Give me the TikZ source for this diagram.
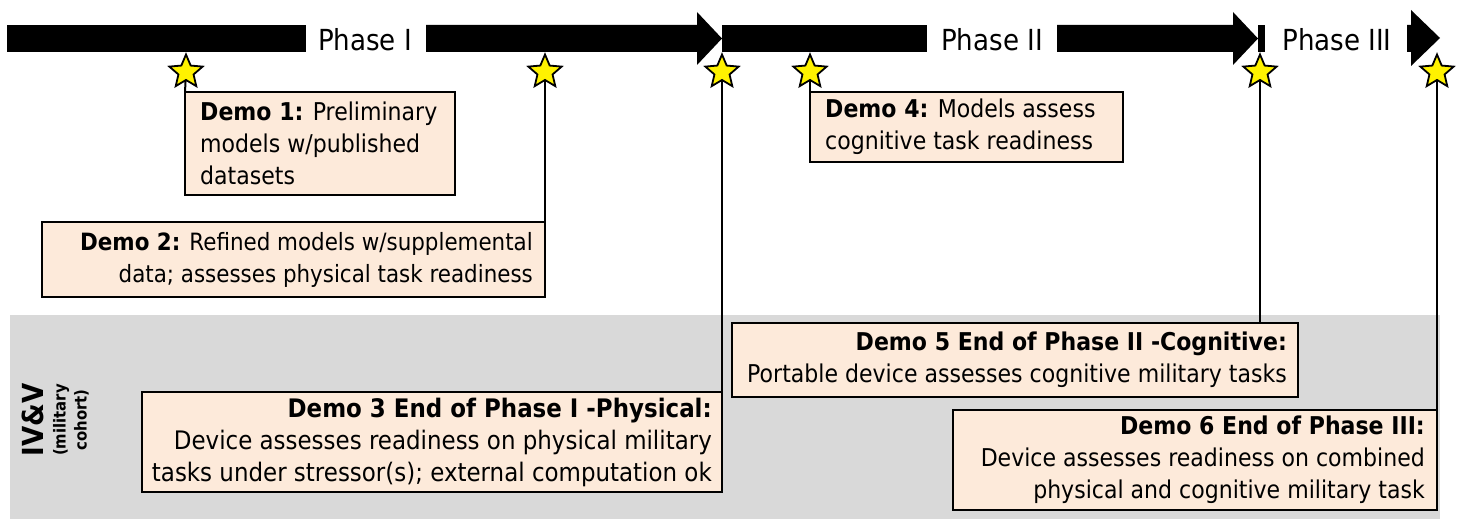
\documentclass[tikz,border=0pt]{standalone}
\usepackage{fontspec}
\setmainfont{DejaVu Sans}[FakeStretch=0.9]
\usetikzlibrary{shapes.geometric}
\definecolor{peach}{HTML}{FDEADA}
\definecolor{bandgray}{HTML}{D9D9D9}
\pgfdeclarelayer{bg}
\pgfdeclarelayer{ln}
\pgfsetlayers{bg,ln,main}
\begin{document}
\begin{tikzpicture}[x=1pt,y=-1pt,
  demobox/.style={draw=black, line width=2.4pt, fill=peach, anchor=north west, inner sep=0pt, outer sep=0pt},
  boxtext/.style={inner sep=0pt, font=\fontsize{24.5}{32}\selectfont},
  staricon/.style={star, star points=5, star point ratio=2.2, minimum size=35pt, inner sep=0pt, fill=yellow, draw=black, line width=1.8pt},
  phaselbl/.style={font=\fontsize{29}{34}\selectfont, anchor=center, inner sep=0pt},
  conn/.style={line width=2pt},
  bar/.style={fill=black}]
\useasboundingbox (0,0) rectangle (1459,519);
% gray IV&V band
\begin{pgfonlayer}{bg}
\fill[bandgray] (10,315) rectangle (1440,519);
\end{pgfonlayer}
% timeline bars
\fill[bar] (7,25) rectangle (306,52);
\fill[bar] (426,25) -- (697,25) -- (697,12) -- (722,38.5) -- (697,65) -- (697,52) -- (426,52) -- cycle;
\fill[bar] (722,25) rectangle (927,52);
\fill[bar] (1057,25) -- (1233,25) -- (1233,12) -- (1258,38.5) -- (1233,65) -- (1233,52) -- (1057,52) -- cycle;
\fill[bar] (1258,25) rectangle (1265,52);
\fill[bar] (1407,25) -- (1411,25) -- (1411,10) -- (1440,38) -- (1411,66) -- (1411,52) -- (1407,52) -- cycle;
\node[phaselbl] (p1) at (365,40) {Phase I};
\node[phaselbl] (p2) at (992,40) {Phase II};
\node[phaselbl] (p3) at (1337,40) {Phase III};
% stars
\node[staricon] (s1) at (186,72) {};
\node[staricon] (s2) at (545,72) {};
\node[staricon] (s3) at (722,72) {};
\node[staricon] (s4) at (810,72) {};
\node[staricon] (s5) at (1260,72) {};
\node[staricon] (s6) at (1437,72) {};
% boxes
\node[demobox, minimum width=270pt, minimum height=103pt] (d1) at (185,92) {};
\node[boxtext, anchor=west, align=left] (t1) at ([xshift=15pt]d1.west)
  {\textbf{Demo 1:} Preliminary\\models w/published\\datasets};
\node[demobox, minimum width=503pt, minimum height=75pt] (d2) at (42,222) {};
\node[boxtext, anchor=east, align=right, font=\fontsize{23.8}{32}\selectfont] (t2) at ([xshift=-12pt]d2.east)
  {\textbf{Demo 2:} Refined models w/supplemental\\data; assesses physical task readiness};
\node[demobox, minimum width=580pt, minimum height=100pt] (d3) at (142,392) {};
\node[boxtext, anchor=east, align=right, font=\fontsize{25.5}{32}\selectfont] (t3) at ([xshift=-10pt]d3.east)
  {\textbf{Demo 3 End of Phase I -Physical:}\\Device assesses readiness on physical military\\tasks under stressor(s); external computation ok};
\node[demobox, minimum width=313pt, minimum height=70pt] (d4) at (810,92) {};
\node[boxtext, anchor=west, align=left] (t4) at ([xshift=15pt]d4.west)
  {\textbf{Demo 4:} Models assess\\cognitive task readiness};
\node[demobox, minimum width=566pt, minimum height=74pt] (d5) at (732,323) {};
\node[boxtext, anchor=east, align=right] (t5) at ([xshift=-11pt]d5.east)
  {\textbf{Demo 5 End of Phase II -Cognitive:}\\Portable device assesses cognitive military tasks};
\node[demobox, minimum width=484pt, minimum height=100pt] (d6) at (953,410) {};
\node[boxtext, anchor=east, align=right] (t6) at ([xshift=-12pt]d6.east)
  {\textbf{Demo 6 End of Phase III:}\\Device assesses readiness on combined\\physical and cognitive military task};
% IV&V label
\node[rotate=90, inner sep=0pt, font=\fontsize{29}{30}\selectfont\bfseries] (ivv) at (33,420) {IV\&V};
\node[rotate=90, inner sep=0pt, align=center, font=\fontsize{16.5}{21}\selectfont\bfseries] (mil) at (71,420) {(military\\cohort)};
% connectors
\begin{pgfonlayer}{ln}
\draw[conn] (s1.center) -- (d1.north west);
\draw[conn] (s2.center) -- (d2.north east);
\draw[conn] (s3.center) -- (d3.north east);
\draw[conn] (s4.center) -- (d4.north west);
\draw[conn] (s5.center) -- (s5 |- d5.north);
\draw[conn] (s6.center) -- (d6.north east);
\end{pgfonlayer}
\end{tikzpicture}
\end{document}
